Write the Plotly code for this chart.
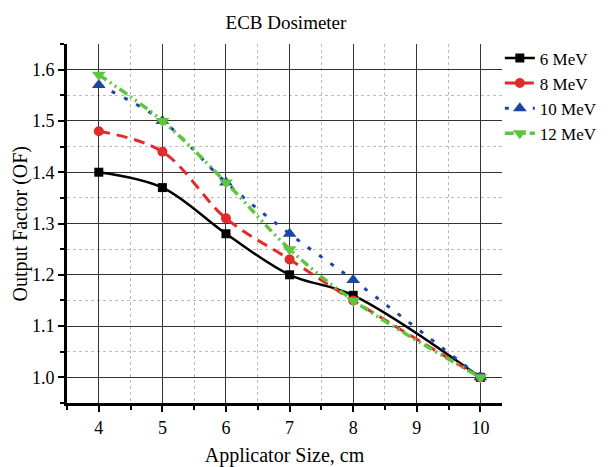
import plotly.graph_objects as go

sizes = [4, 5, 6, 7, 8, 10]
of_6 = [1.40, 1.37, 1.28, 1.20, 1.16, 1.00]
of_8 = [1.48, 1.44, 1.31, 1.23, 1.15, 1.00]
of_10 = [1.57, 1.50, 1.38, 1.28, 1.19, 1.00]
of_12 = [1.59, 1.50, 1.38, 1.25, 1.15, 1.00]

series = [
    ("6 MeV", of_6, "black", "solid", "square", 2.5, 9),
    ("8 MeV", of_8, "#e32b2b", "11px,7px", "circle", 3, 10),
    ("10 MeV", of_10, "#1c46a5", "4px,10px", "triangle-up", 3, 12),
    ("12 MeV", of_12, "#5cc63c", "9px,4px,2px,4px,2px,4px", "triangle-down", 3.5, 12),
]

fig = go.Figure()
for name, vals, color, dash, sym, w, ms in series:
    fig.add_trace(go.Scatter(
        x=sizes, y=vals, name=name, mode="lines+markers",
        line=dict(color=color, dash=dash, width=w, shape="spline", smoothing=1.0),
        marker=dict(symbol=sym, size=ms, color=color),
    ))

serif = "Liberation Serif, Times New Roman, serif"
fig.update_layout(
    width=615, height=467,
    margin=dict(l=67, r=113, t=44, b=64, autoexpand=False),
    paper_bgcolor="white", plot_bgcolor="white",
    font=dict(family=serif, size=18, color="black"),
    title=dict(text="ECB Dosimeter", x=0.465, xanchor="center", y=0.953, yanchor="middle",
               font=dict(family=serif, size=19)),
    legend=dict(x=0.995, y=1.01, xanchor="left", yanchor="top", bgcolor="rgba(0,0,0,0)",
                font=dict(family=serif, size=17), tracegroupgap=0, itemwidth=30),
    showlegend=True,
    annotations=[dict(text="Output Factor (OF)", xref="paper", yref="paper",
                      x=-0.108, y=0.5, xanchor="center", yanchor="middle",
                      textangle=-90, showarrow=False, font=dict(family=serif, size=20))],
)
fig.update_xaxes(
    range=[3.5, 10.34], tick0=4, dtick=1, showline=True, linewidth=3, linecolor="black",
    ticks="outside", ticklen=6, tickwidth=2, tickcolor="black", automargin=False,
    showgrid=True, gridcolor="#333", gridwidth=1, zeroline=False,
    minor=dict(dtick=0.5, tick0=4, showgrid=True, gridcolor="#bbbbbb", griddash="dot",
               ticks="outside", ticklen=4, tickwidth=2, tickcolor="black"),
    title=dict(text="Applicator Size, cm", font=dict(family=serif, size=20), standoff=14),
    tickfont=dict(size=18),
)
fig.update_yaxes(
    range=[0.95, 1.65], tick0=1.0, dtick=0.1, tickformat=".1f", showline=True, linewidth=3,
    linecolor="black", ticks="outside", ticklen=6, tickwidth=2, tickcolor="black", automargin=False,
    showgrid=True, gridcolor="#333", gridwidth=1, zeroline=False,
    minor=dict(dtick=0.05, tick0=1.0, showgrid=True, gridcolor="#bbbbbb", griddash="dot",
               ticks="outside", ticklen=4, tickwidth=2, tickcolor="black"),
    tickfont=dict(size=18),
)
fig.write_html("out.html", config={"displayModeBar": False},
               post_script="document.body.style.margin='0px';")
